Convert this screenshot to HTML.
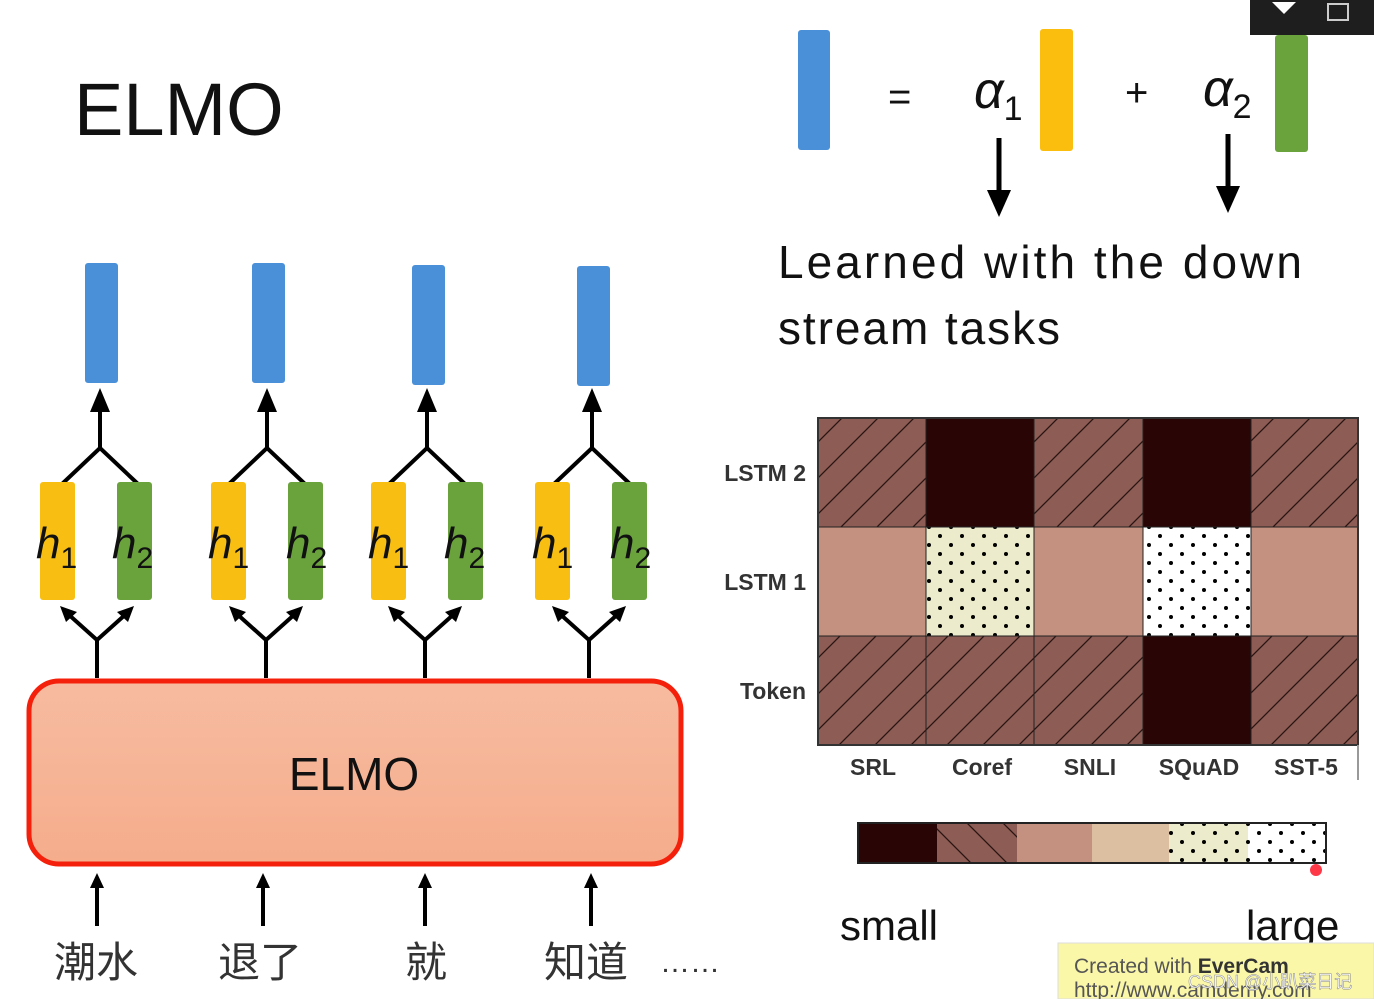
<!DOCTYPE html>
<html><head><meta charset="utf-8"><style>
html,body{margin:0;padding:0;background:#fff;}
svg{display:block;}
text{font-family:"Liberation Sans","Noto Sans CJK SC",sans-serif;}
</style></head><body>
<svg width="1374" height="999" viewBox="0 0 1374 999" xmlns="http://www.w3.org/2000/svg">
<defs>
<marker id="ah" markerWidth="6" markerHeight="6" refX="3" refY="3" orient="auto" markerUnits="strokeWidth">
<path d="M0,0.5 L6,3 L0,5.5 z" fill="#000"/></marker>
<pattern id="hatch" width="36" height="36" patternUnits="userSpaceOnUse">
<rect width="36" height="36" fill="#8c5c55"/>
<path d="M-9,9 L9,-9 M0,36 L36,0 M27,45 L45,27" stroke="#2a1412" stroke-width="1.3"/></pattern>
<pattern id="bhatch" width="36" height="36" patternUnits="userSpaceOnUse">
<rect width="36" height="36" fill="#8c5c55"/>
<path d="M-9,27 L9,45 M0,0 L36,36 M27,-9 L45,9" stroke="#2a1412" stroke-width="1.3"/></pattern>
<pattern id="dotp" width="22" height="18" patternUnits="userSpaceOnUse">
<rect width="22" height="18" fill="#ecebcb"/><circle cx="5" cy="5" r="2" fill="#000"/><circle cx="16" cy="14" r="2" fill="#000"/></pattern>
<pattern id="dotw" width="22" height="18" patternUnits="userSpaceOnUse">
<rect width="22" height="18" fill="#fff"/><circle cx="5" cy="5" r="2" fill="#000"/><circle cx="16" cy="14" r="2" fill="#000"/></pattern>
<linearGradient id="eg" x1="0" y1="0" x2="0" y2="1"><stop offset="0" stop-color="#f7bba0"/><stop offset="1" stop-color="#f5ad8c"/></linearGradient>
</defs>

<text x="74" y="135" font-size="74" fill="#111">ELMO</text>

<g fill="#4a90d9">
<rect x="85" y="263" width="33" height="120" rx="3"/>
<rect x="252" y="263" width="33" height="120" rx="3"/>
<rect x="412" y="265" width="33" height="120" rx="3"/>
<rect x="577" y="266" width="33" height="120" rx="3"/>
</g>
<g stroke="#000" stroke-width="4" fill="none">
<path d="M100,448 V400" marker-end="url(#ah)"/><path d="M62,484 L100,448 L138,484"/>
<path d="M267,448 V400" marker-end="url(#ah)"/><path d="M229,484 L267,448 L305,484"/>
<path d="M427,448 V400" marker-end="url(#ah)"/><path d="M389,484 L427,448 L465,484"/>
<path d="M592,448 V400" marker-end="url(#ah)"/><path d="M554,484 L592,448 L630,484"/>
<path d="M97,678 V640 L68,614 M97,640 L126,614"/>
<path d="M266,678 V640 L237,614 M266,640 L295,614"/>
<path d="M425,678 V640 L396,614 M425,640 L454,614"/>
<path d="M589,678 V640 L560,614 M589,640 L618,614"/>
</g>
<g fill="#000">
<path d="M60,606 L77,612 L66,622 z"/><path d="M134,606 L117,612 L128,622 z"/>
<path d="M229,606 L246,612 L235,622 z"/><path d="M303,606 L286,612 L297,622 z"/>
<path d="M388,606 L405,612 L394,622 z"/><path d="M462,606 L445,612 L456,622 z"/>
<path d="M552,606 L569,612 L558,622 z"/><path d="M626,606 L609,612 L620,622 z"/>
</g>
<g>
<rect x="40" y="482" width="35" height="118" rx="3" fill="#f8bf12"/><rect x="117" y="482" width="35" height="118" rx="3" fill="#6aa33c"/>
<rect x="211" y="482" width="35" height="118" rx="3" fill="#f8bf12"/><rect x="288" y="482" width="35" height="118" rx="3" fill="#6aa33c"/>
<rect x="371" y="482" width="35" height="118" rx="3" fill="#f8bf12"/><rect x="448" y="482" width="35" height="118" rx="3" fill="#6aa33c"/>
<rect x="535" y="482" width="35" height="118" rx="3" fill="#f8bf12"/><rect x="612" y="482" width="35" height="118" rx="3" fill="#6aa33c"/>
</g>
<g font-family="Liberation Serif,serif" font-style="italic" font-size="44" fill="#111">
<text x="36" y="558">h<tspan font-style="normal" font-size="30" dy="10">1</tspan></text>
<text x="112" y="558">h<tspan font-style="normal" font-size="30" dy="10">2</tspan></text>
<text x="208" y="558">h<tspan font-style="normal" font-size="30" dy="10">1</tspan></text>
<text x="286" y="558">h<tspan font-style="normal" font-size="30" dy="10">2</tspan></text>
<text x="368" y="558">h<tspan font-style="normal" font-size="30" dy="10">1</tspan></text>
<text x="444" y="558">h<tspan font-style="normal" font-size="30" dy="10">2</tspan></text>
<text x="532" y="558">h<tspan font-style="normal" font-size="30" dy="10">1</tspan></text>
<text x="610" y="558">h<tspan font-style="normal" font-size="30" dy="10">2</tspan></text>
</g>

<rect x="29" y="681" width="652" height="183" rx="30" fill="url(#eg)" stroke="#f5200c" stroke-width="5"/>
<text x="354" y="790" font-size="46" text-anchor="middle" fill="#111">ELMO</text>

<g stroke="#000" stroke-width="4">
<path d="M97,926 V884"/><path d="M263,926 V884"/><path d="M425,926 V884"/><path d="M591,926 V884"/>
</g>
<g fill="#000">
<path d="M90,888 L97,873 L104,888 z"/><path d="M256,888 L263,873 L270,888 z"/><path d="M418,888 L425,873 L432,888 z"/><path d="M584,888 L591,873 L598,888 z"/>
</g>
<g font-size="42" fill="#333" font-family="Liberation Sans,'Noto Sans CJK TC',sans-serif">
<text x="54" y="977">潮水</text><text x="218" y="977">退了</text><text x="405" y="977">就</text><text x="544" y="977">知道</text>
<text x="660" y="972" font-size="30">……</text>
</g>

<rect x="798" y="30" width="32" height="120" rx="3" fill="#4a90d9"/>
<rect x="1040" y="29" width="33" height="122" rx="3" fill="#fbbd0e"/>
<rect x="1275" y="35" width="33" height="117" rx="3" fill="#6aa33c"/>
<rect x="1250" y="0" width="124" height="35" fill="#1e1e1e"/>
<path d="M1272,2 L1296,2 L1284,14 z" fill="#fff"/>
<rect x="1328" y="4" width="20" height="16" fill="none" stroke="#ccc" stroke-width="2"/>
<text x="888" y="110" font-size="40" fill="#111">=</text>
<text x="1125" y="106" font-size="40" fill="#111">+</text>
<text x="974" y="108" font-family="Liberation Serif,serif" font-style="italic" font-size="52" fill="#111">α<tspan font-style="normal" font-size="34" dy="12">1</tspan></text>
<text x="1203" y="106" font-family="Liberation Serif,serif" font-style="italic" font-size="52" fill="#111">α<tspan font-style="normal" font-size="34" dy="12">2</tspan></text>
<g stroke="#000" stroke-width="5"><path d="M999,138 V195"/><path d="M1228,134 V192"/></g>
<g fill="#000"><path d="M987,190 L1011,190 L999,217 z"/><path d="M1216,186 L1240,186 L1228,213 z"/></g>
<text x="778" y="278" font-size="46" fill="#111" textLength="524" lengthAdjust="spacing">Learned with the down</text>
<text x="778" y="344" font-size="46" fill="#111" textLength="282" lengthAdjust="spacing">stream tasks</text>

<g stroke="#222" stroke-width="1">
<rect x="818" y="418" width="108" height="109" fill="url(#hatch)"/>
<rect x="926" y="418" width="108" height="109" fill="#2a0505"/>
<rect x="1034" y="418" width="109" height="109" fill="url(#hatch)"/>
<rect x="1143" y="418" width="108" height="109" fill="#2a0505"/>
<rect x="1251" y="418" width="107" height="109" fill="url(#hatch)"/>
<rect x="818" y="527" width="108" height="109" fill="#c4907f"/>
<rect x="926" y="527" width="108" height="109" fill="url(#dotp)"/>
<rect x="1034" y="527" width="109" height="109" fill="#c4907f"/>
<rect x="1143" y="527" width="108" height="109" fill="url(#dotw)"/>
<rect x="1251" y="527" width="107" height="109" fill="#c4907f"/>
<rect x="818" y="636" width="108" height="109" fill="url(#hatch)"/>
<rect x="926" y="636" width="108" height="109" fill="url(#hatch)"/>
<rect x="1034" y="636" width="109" height="109" fill="url(#hatch)"/>
<rect x="1143" y="636" width="108" height="109" fill="#2a0505"/>
<rect x="1251" y="636" width="107" height="109" fill="url(#hatch)"/>
</g>
<rect x="818" y="418" width="540" height="327" fill="none" stroke="#333" stroke-width="2"/>
<g font-size="23" fill="#333" font-weight="bold">
<text x="806" y="481" text-anchor="end">LSTM 2</text>
<text x="806" y="590" text-anchor="end">LSTM 1</text>
<text x="806" y="699" text-anchor="end">Token</text>
<text x="873" y="775" text-anchor="middle">SRL</text>
<text x="982" y="775" text-anchor="middle">Coref</text>
<text x="1090" y="775" text-anchor="middle">SNLI</text>
<text x="1199" y="775" text-anchor="middle">SQuAD</text>
<text x="1306" y="775" text-anchor="middle">SST-5</text>
</g>
<path d="M1358,745 V780" stroke="#999" stroke-width="2"/>

<rect x="858" y="823" width="79" height="40" fill="#2a0505"/>
<rect x="937" y="823" width="80" height="40" fill="url(#bhatch)"/>
<rect x="1017" y="823" width="75" height="40" fill="#c4907f"/>
<rect x="1092" y="823" width="77" height="40" fill="#dcbfa0"/>
<rect x="1169" y="823" width="79" height="40" fill="url(#dotp)"/>
<rect x="1248" y="823" width="78" height="40" fill="url(#dotw)"/>
<rect x="858" y="823" width="468" height="40" fill="none" stroke="#222" stroke-width="2"/>
<circle cx="1316" cy="870" r="6" fill="#f23" opacity="0.9"/>
<text x="840" y="940" font-size="42" fill="#111">small</text>
<text x="1246" y="940" font-size="42" fill="#111">large</text>

<rect x="1058" y="943" width="316" height="56" fill="#fbf7a8" stroke="#ddd"/>
<text x="1074" y="973" font-size="21" fill="#555">Created with <tspan font-weight="bold" fill="#333">EverCam</tspan></text>
<text x="1074" y="997" font-size="21" fill="#555">http://www.camdemy.com</text>
<text x="1188" y="988" font-size="18" fill="#fff" stroke="#888" stroke-width="0.5">CSDN @小趴菜日记</text>
</svg>
</body></html>
